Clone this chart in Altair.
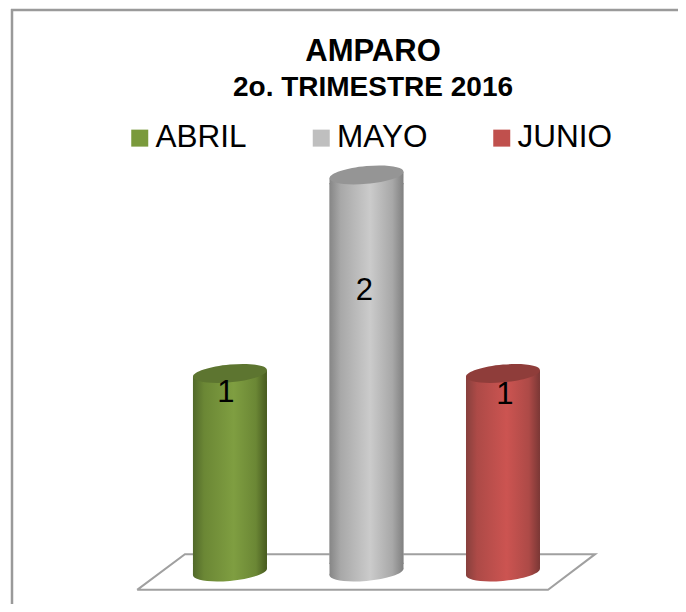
import altair as alt
import pandas as pd

# --- values
months = ["ABRIL", "MAYO", "JUNIO"]
positions = [0, 1, 2]
values = [1, 2, 1]
base_colors = ["#7a9a3c", "#bfbfbf", "#c0504d"]
top_colors = ["#5d7530", "#959595", "#8f3d3a"]
shade_left = ["#51692a", "#868686", "#87403d"]
shade_mid = ["#6b8735", "#a8a8a8", "#ad4a47"]
shade_light = ["#7f9e41", "#cbcbcb", "#cc5451"]
shade_right = ["#475a1f", "#808080", "#7a3735"]
label_dx = [-4, -2, 2]
label_dy = [20, 116, 22]
floor_x = [-0.68, -0.33, 2.675, 2.33, -0.68]
floor_y = [-0.09, 0.09, 0.09, -0.09, -0.09]
half_width = 0.271

FONT = "Liberation Sans"
PX = 670
PY = 596
x_scale = alt.Scale(domain=[-1.626, 3.282], nice=False, zero=False)
y_scale = alt.Scale(domain=[-0.1612, 2.841], nice=False, zero=False)
X = lambda f: alt.X(f, type="quantitative", scale=x_scale, axis=None)
Y = lambda f: alt.Y(f, type="quantitative", scale=y_scale, axis=None)

ELLIPSE = ("M1,-0.09 C1,0.0425 0.552,0.1903 0,0.24 C-0.552,0.2897 -1,0.2225 -1,0.09 "
           "C-1,-0.0425 -0.552,-0.1903 0,-0.24 C0.552,-0.2897 1,-0.2225 1,-0.09 Z")
COLLAR_TOP = "M1,-0.09 L1,0.25 L-1,0.25 L-1,0.09 Z"
COLLAR_BOTTOM = "M1,-0.09 L1,-0.25 L-1,-0.25 L-1,0.09 Z"
CAP_SIZE = 5476

df = pd.DataFrame({
    "month": months, "pos": positions, "value": values,
    "left": [p - half_width for p in positions],
    "right": [p + half_width for p in positions],
    "zero": [0, 0, 0],
})
df["body_top"] = df["value"] - 0.04
df["body_bottom"] = df["zero"] + 0.04
floor = pd.DataFrame({"x": floor_x, "y": floor_y, "o": list(range(len(floor_x)))})

frame_left = alt.Chart(df.head(1)).mark_rule(color="#9a9a9a", strokeWidth=2.5).encode(
    x=alt.value(4), y=alt.value(1), y2=alt.value(PY))
frame_top = alt.Chart(df.head(1)).mark_rule(color="#9a9a9a", strokeWidth=2.5).encode(
    x=alt.value(3), x2=alt.value(PX), y=alt.value(2))

floor_line = alt.Chart(floor).mark_line(color="#a0a0a0", strokeWidth=2, strokeJoin="miter").encode(
    x=X("x"), y=Y("y"), order="o:Q")

base = alt.Chart(df).mark_bar(cornerRadius=0).encode(
    x=X("left"), x2="right", y=Y("body_bottom"), y2="body_top",
    color=alt.Color("month:N",
                    scale=alt.Scale(domain=months, range=base_colors),
                    legend=alt.Legend(title=None, orient="none", legendX=116, legendY=114,
                                      direction="horizontal", columns=3, columnPadding=58.5,
                                      symbolType="square", symbolSize=289, symbolStrokeWidth=0,
                                      labelFont=FONT, labelFontSize=31.5, labelColor="#000000",
                                      labelOffset=0, symbolOpacity=1)),
)

layers = [frame_left, frame_top, floor_line, base]
for i in range(3):
    row = df.iloc[[i]]
    grad = alt.Gradient(gradient="linear", x1=0, y1=0, x2=1, y2=0, stops=[
        alt.GradientStop(offset=0, color=shade_left[i]),
        alt.GradientStop(offset=0.15, color=shade_mid[i]),
        alt.GradientStop(offset=0.55, color=shade_light[i]),
        alt.GradientStop(offset=0.85, color=shade_mid[i]),
        alt.GradientStop(offset=1, color=shade_right[i]),
    ])
    c = alt.Chart(row)
    layers.append(c.mark_point(shape=ELLIPSE, size=CAP_SIZE, filled=True, fill=grad, opacity=1, strokeWidth=0)
                  .encode(x=X("pos"), y=Y("zero")))
    layers.append(c.mark_point(shape=COLLAR_BOTTOM, size=CAP_SIZE, filled=True, fill=grad, opacity=1, strokeWidth=0)
                  .encode(x=X("pos"), y=Y("zero")))
    layers.append(c.mark_bar(fill=grad, cornerRadius=0).encode(x=X("left"), x2="right", y=Y("body_bottom"), y2="body_top"))
    layers.append(c.mark_point(shape=COLLAR_TOP, size=CAP_SIZE, filled=True, fill=grad, opacity=1, strokeWidth=0)
                  .encode(x=X("pos"), y=Y("value")))
    layers.append(c.mark_point(shape=ELLIPSE, size=CAP_SIZE, filled=True, fill=top_colors[i], opacity=1, strokeWidth=0)
                  .encode(x=X("pos"), y=Y("value")))
    layers.append(c.mark_text(font=FONT, fontSize=31, color="#000000", dx=label_dx[i], dy=label_dy[i],
                              baseline="middle", align="center")
                  .encode(x=X("pos"), y=Y("value"), text="value:Q"))

chart = alt.layer(*layers).properties(
    width=PX, height=PY,
    padding=0,
    autosize=alt.AutoSizeParams(type="none"),
    title=alt.TitleParams(
        text="AMPARO", subtitle="2o. TRIMESTRE 2016",
        font=FONT, fontSize=31, fontWeight="bold", color="#000000",
        subtitleFont=FONT, subtitleFontSize=28, subtitleFontWeight="bold", subtitleColor="#000000",
        subtitlePadding=6, anchor="middle", frame="group", orient="top", offset=0, dx=30, dy=95,
    ),
).configure_view(stroke=None)

chart.save("out.html", embed_options={"renderer": "svg", "actions": False})
